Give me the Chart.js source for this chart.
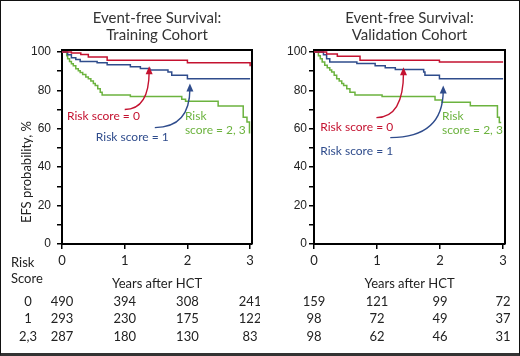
<!DOCTYPE html>
<html>
<head>
<meta charset="utf-8">
<script src="https://cdn.jsdelivr.net/npm/chart.js@4.4.1/dist/chart.umd.min.js"></script>
<style>
  html, body { margin: 0; padding: 0; background: #fff; }
  #wrap { position: relative; width: 520px; height: 356px; overflow: hidden; }
  #wrap canvas { position: absolute; top: 0; }
  #frame { position: absolute; left: 0; top: 0; width: 520px; height: 356px; box-sizing: border-box;
           border: 1px solid #111; border-bottom: 3px solid #333; pointer-events: none; }
</style>
</head>
<body>
<div id="wrap">
  <canvas id="training" width="260" height="356" style="left:0"></canvas>
  <canvas id="validation" width="260" height="356" style="left:260px"></canvas>
  <div id="frame"></div>
</div>
<script>
// colours of the three risk groups
const RED = '#c41230';
const BLUE = '#2f4c8c';
const GREEN = '#6cb33f';

const xTicks = [0, 1, 2, 3];
const riskGroups = ['0', '1', '2,3'];

// Training cohort: Kaplan-Meier steps (years, EFS %)
const trainRedX = [0, 0.15, 0.3, 0.42, 0.72, 2.0, 2.99, 3.0];
const trainRedY = [100, 99.5, 98.7, 97.3, 95.6, 94.3, 94.3, 92.5];
const trainBlueX = [0, 0.09, 0.15, 0.22, 0.29, 0.56, 0.72, 1.09, 1.25, 1.4, 1.69, 1.75, 2.0, 3.0];
const trainBlueY = [100, 98.5, 97, 96, 95, 94.3, 93.3, 92.3, 91.4, 90.6, 89.5, 87.8, 86, 86];
const trainGreenX = [0, 0.075, 0.09, 0.12, 0.15, 0.18, 0.22, 0.26, 0.29, 0.33, 0.38, 0.42, 0.46, 0.5, 0.53, 0.57, 0.61, 0.64, 1.09, 1.91, 1.97, 2.49, 2.89, 2.95, 2.99];
const trainGreenY = [100, 98, 96.4, 95, 93.8, 92.8, 91.2, 90.2, 89.3, 88.2, 87, 86, 84.8, 83.6, 82.5, 80.8, 79, 77.6, 76.8, 75.3, 74.3, 71.8, 66, 63.5, 57.5];
const trainAtRisk = [
  [490, 394, 308, 241],
  [293, 230, 175, 122],
  [287, 180, 130, 83]
];

// Validation cohort
const validRedX = [0, 0.2, 0.37, 0.73, 1.99, 3.0];
const validRedY = [100, 98.9, 97.8, 95.6, 94.7, 94.7];
const validBlueX = [0, 0.15, 0.2, 0.25, 0.68, 0.97, 1.13, 1.29, 1.74, 1.76, 1.99, 3.0];
const validBlueY = [100, 98.5, 96.4, 94.7, 94, 92.8, 91.8, 90.8, 89.5, 87.8, 86, 86];
const validGreenX = [0, 0.07, 0.1, 0.13, 0.17, 0.21, 0.25, 0.28, 0.32, 0.36, 0.4, 0.44, 0.47, 0.52, 0.57, 0.65, 1.08, 1.92, 2.03, 2.48, 2.91, 2.94, 2.97];
const validGreenY = [100, 98, 96.4, 94.8, 93, 91.8, 90.6, 89.5, 87.8, 86, 84.8, 83.6, 82.5, 80.8, 79, 77.6, 76.8, 75, 73.8, 72, 66, 63.3, 63.3];
const validAtRisk = [
  [159, 121, 99, 72],
  [98, 72, 49, 37],
  [98, 62, 46, 31]
];

// annotation labels and arrows, in data units (years, %)
const trainLabels = [
  { text: ['Risk score = 0'], x: 0.08, y: 66.8, color: RED },
  { text: ['Risk score = 1'], x: 0.54, y: 55.4, color: BLUE },
  { text: ['Risk', 'score = 2, 3'], x: 1.96, y: 66.8, color: GREEN }
];
const trainArrows = [
  { from: [1.0, 70], to: [1.39, 92.5], color: RED },
  { from: [1.48, 60.6], to: [2.04, 83.5], color: BLUE }
];
const validLabels = [
  { text: ['Risk score = 0'], x: 0.1, y: 61, color: RED },
  { text: ['Risk score = 1'], x: 0.1, y: 48.6, color: BLUE },
  { text: ['Risk', 'score = 2, 3'], x: 2.03, y: 66.8, color: GREEN }
];
const validArrows = [
  { from: [0.99, 65.8], to: [1.42, 92], color: RED },
  { from: [1.21, 55.4], to: [2.05, 82.5], color: BLUE }
];

const FONT = 'Lato, "Open Sans", sans-serif';

function toPoints(xs, ys) {
  return xs.map((x, i) => ({ x: x, y: ys[i] }));
}

function curve(xs, ys, color) {
  return {
    data: toPoints(xs, ys),
    borderColor: color,
    borderWidth: 1.5,
    pointRadius: 0,
    stepped: true,
    fill: false
  };
}

function drawArrow(ctx, x0, y0, x1, y1, color) {
  const cx = x1, cy = y0;
  ctx.save();
  ctx.strokeStyle = color;
  ctx.fillStyle = color;
  ctx.lineWidth = 1.4;
  ctx.beginPath();
  ctx.moveTo(x0, y0);
  ctx.quadraticCurveTo(cx, cy, x1, y1 + 5);
  ctx.stroke();
  const a = Math.atan2(y1 - cy, x1 - cx);
  ctx.beginPath();
  ctx.moveTo(x1, y1);
  ctx.lineTo(x1 - 8 * Math.cos(a) + 3.5 * Math.sin(a), y1 - 8 * Math.sin(a) - 3.5 * Math.cos(a));
  ctx.lineTo(x1 - 8 * Math.cos(a) - 3.5 * Math.sin(a), y1 - 8 * Math.sin(a) + 3.5 * Math.cos(a));
  ctx.closePath();
  ctx.fill();
  ctx.restore();
}

function extras(cfg) {
  return {
    id: 'extras',
    afterDraw(chart) {
      const ctx = chart.ctx;
      const area = chart.chartArea;
      const xs = chart.scales.x, ys = chart.scales.y;
      const midX = (area.left + area.right) / 2;
      ctx.save();

      // top and right sides of the plot box
      ctx.strokeStyle = '#000';
      ctx.lineWidth = 2;
      ctx.beginPath();
      ctx.moveTo(area.left, area.top);
      ctx.lineTo(area.right, area.top);
      ctx.lineTo(area.right, area.bottom);
      ctx.stroke();

      // title
      ctx.fillStyle = '#333';
      ctx.font = '15px ' + FONT;
      ctx.textAlign = 'center';
      ctx.textBaseline = 'middle';
      ctx.fillText('Event-free Survival:', midX, 18);
      ctx.fillText(cfg.subtitle, midX, 35);

      // group labels and arrows
      ctx.font = '12px ' + FONT;
      ctx.textAlign = 'left';
      cfg.labels.forEach(l => {
        ctx.fillStyle = l.color;
        l.text.forEach((t, i) => {
          ctx.fillText(t, xs.getPixelForValue(l.x), ys.getPixelForValue(l.y) + i * 14);
        });
      });
      cfg.arrows.forEach(a => {
        drawArrow(ctx,
          xs.getPixelForValue(a.from[0]), ys.getPixelForValue(a.from[1]),
          xs.getPixelForValue(a.to[0]), ys.getPixelForValue(a.to[1]), a.color);
      });

      // x axis title and numbers at risk
      ctx.fillStyle = '#222';
      ctx.font = '13px ' + FONT;
      ctx.textAlign = 'center';
      ctx.fillText('Years after HCT', midX, 284);
      const rowY = [302, 319, 337];
      cfg.atRisk.forEach((row, r) => {
        row.forEach((n, i) => {
          ctx.fillText(String(n), xs.getPixelForValue(xTicks[i]), rowY[r]);
        });
      });

      if (cfg.first) {
        ctx.textAlign = 'left';
        ctx.fillText('Risk', 11, 263);
        ctx.fillText('Score', 11, 279);
        ctx.textAlign = 'center';
        riskGroups.forEach((g, r) => ctx.fillText(g, 28, rowY[r]));

        ctx.save();
        ctx.translate(27, 172);
        ctx.rotate(-Math.PI / 2);
        ctx.fillText('EFS probability, %', 0, 0);
        ctx.restore();
      }
      ctx.restore();
    }
  };
}

function makeChart(id, datasets, cfg) {
  const axisGrid = { drawOnChartArea: false, drawTicks: true, tickLength: 5, color: '#000', lineWidth: 1.5 };
  new Chart(document.getElementById(id), {
    type: 'line',
    data: { datasets: datasets },
    options: {
      responsive: false,
      animation: false,
      devicePixelRatio: 1,
      layout: { padding: { top: 50, right: cfg.padRight, bottom: 0, left: 0 } },
      plugins: { legend: { display: false }, tooltip: { enabled: false } },
      scales: {
        x: {
          type: 'linear', min: 0, max: 3.03,
          afterFit: s => { s.height = 112; },
          border: { color: '#000', width: 2 },
          grid: axisGrid,
          ticks: { stepSize: 1, includeBounds: false, padding: 4, color: '#222', font: { family: FONT, size: 13 } }
        },
        y: {
          min: 0, max: 101,
          afterFit: s => { s.width = cfg.yWidth; },
          border: { color: '#000', width: 2 },
          grid: axisGrid,
          ticks: {
            stepSize: 10, includeBounds: false, padding: cfg.tickPad, color: '#222',
            font: { family: '"Liberation Sans", Arial, sans-serif', size: 12 },
            callback: v => (v % 20 === 0 ? v : '')
          }
        }
      }
    },
    plugins: [extras(cfg)]
  });
}

makeChart('training', [
  curve(trainRedX, trainRedY, RED),
  curve(trainBlueX, trainBlueY, BLUE),
  curve(trainGreenX, trainGreenY, GREEN)
], { subtitle: 'Training Cohort', labels: trainLabels, arrows: trainArrows, atRisk: trainAtRisk,
     first: true, yWidth: 62, padRight: 8, tickPad: 6 });

makeChart('validation', [
  curve(validRedX, validRedY, RED),
  curve(validBlueX, validBlueY, BLUE),
  curve(validGreenX, validGreenY, GREEN)
], { subtitle: 'Validation Cohort', labels: validLabels, arrows: validArrows, atRisk: validAtRisk,
     first: false, yWidth: 54, padRight: 15, tickPad: 2 });
</script>
</body>
</html>
